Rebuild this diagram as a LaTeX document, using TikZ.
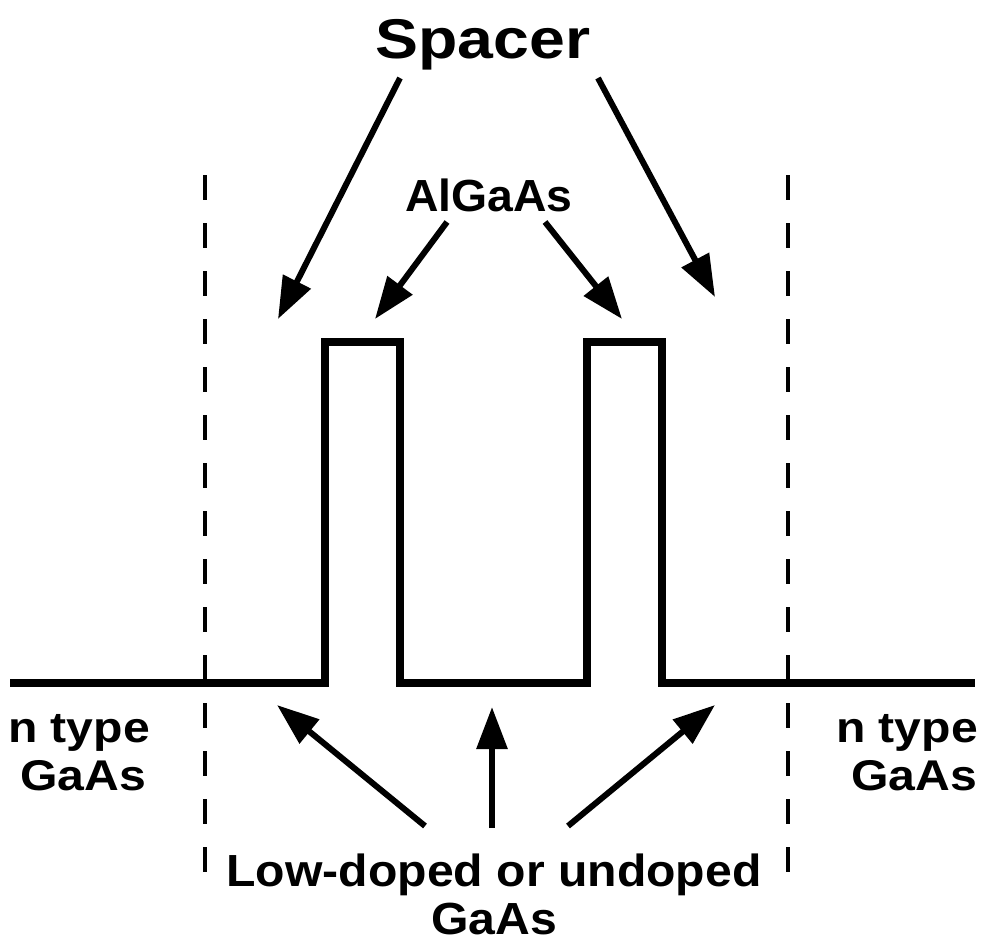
\documentclass[tikz,border=0pt]{standalone}
\usepackage{fontspec}
\usepackage{graphicx}
\setmainfont{Liberation Sans}
\usetikzlibrary{arrows.meta}
% horizontally widened bold text
\newcommand\widetext[2]{\scalebox{#1}[1]{#2}}
\begin{document}
\begin{tikzpicture}[x=1pt,y=-1pt,
  profile/.style={line width=8pt,line join=miter},
  boundary/.style={line width=4.5pt,dash pattern=on 25pt off 23pt},
  pointer/.style={line width=6pt,-{Triangle[length=42pt,width=30pt]}},
  lbl/.style={inner sep=0pt,anchor=base,font=\bfseries\fontsize{45}{50}\selectfont},
  biglbl/.style={inner sep=0pt,anchor=base,font=\bfseries\fontsize{56}{60}\selectfont},
  side/.style={inner sep=0pt,anchor=base,font=\bfseries\fontsize{43}{48}\selectfont}]
\useasboundingbox (0,0) rectangle (984,943);

% band profile with two AlGaAs barriers
\draw[profile] (10,683) -- (325,683) -- (325,342) -- (400,342) -- (400,683)
  -- (587,683) -- (587,342) -- (662,342) -- (662,683) -- (975,683);

% boundaries of the low-doped region
\draw[boundary] (205,175) -- (205,875);
\draw[boundary] (788,175) -- (788,875);

% labels
\node[biglbl] (spacer) at (483,58) {\widetext{1.15}{Spacer}};
\node[lbl] (algaas) at (489,211) {\widetext{1.03}{AlGaAs}};
\node[side] (nl1) at (79,742) {\widetext{1.12}{n type}};
\node[side] (nl2) at (83,790) {\widetext{1.12}{GaAs}};
\node[side] (nr1) at (907,742) {\widetext{1.12}{n type}};
\node[side] (nr2) at (914,790) {\widetext{1.12}{GaAs}};
\node[lbl] (low1) at (494,886) {\widetext{1.07}{Low-doped or undoped}};
\node[lbl] (low2) at (494,934) {\widetext{1.07}{GaAs}};

% arrow ends
\coordinate (s1a) at (400,78);  \coordinate (s1b) at (278,319);
\coordinate (s2a) at (598,78);  \coordinate (s2b) at (715,297);
\coordinate (a1a) at (447,222); \coordinate (a1b) at (375,319);
\coordinate (a2a) at (545,222); \coordinate (a2b) at (622,319);
\coordinate (l1a) at (425,826); \coordinate (l1b) at (277,705);
\coordinate (l2a) at (492,828); \coordinate (l2b) at (492,707);
\coordinate (l3a) at (568,826); \coordinate (l3b) at (715,705);

\draw[pointer] (s1a) -- (s1b);
\draw[pointer] (s2a) -- (s2b);
\draw[pointer] (a1a) -- (a1b);
\draw[pointer] (a2a) -- (a2b);
\draw[pointer] (l1a) -- (l1b);
\draw[pointer] (l2a) -- (l2b);
\draw[pointer] (l3a) -- (l3b);
\end{tikzpicture}
\end{document}
